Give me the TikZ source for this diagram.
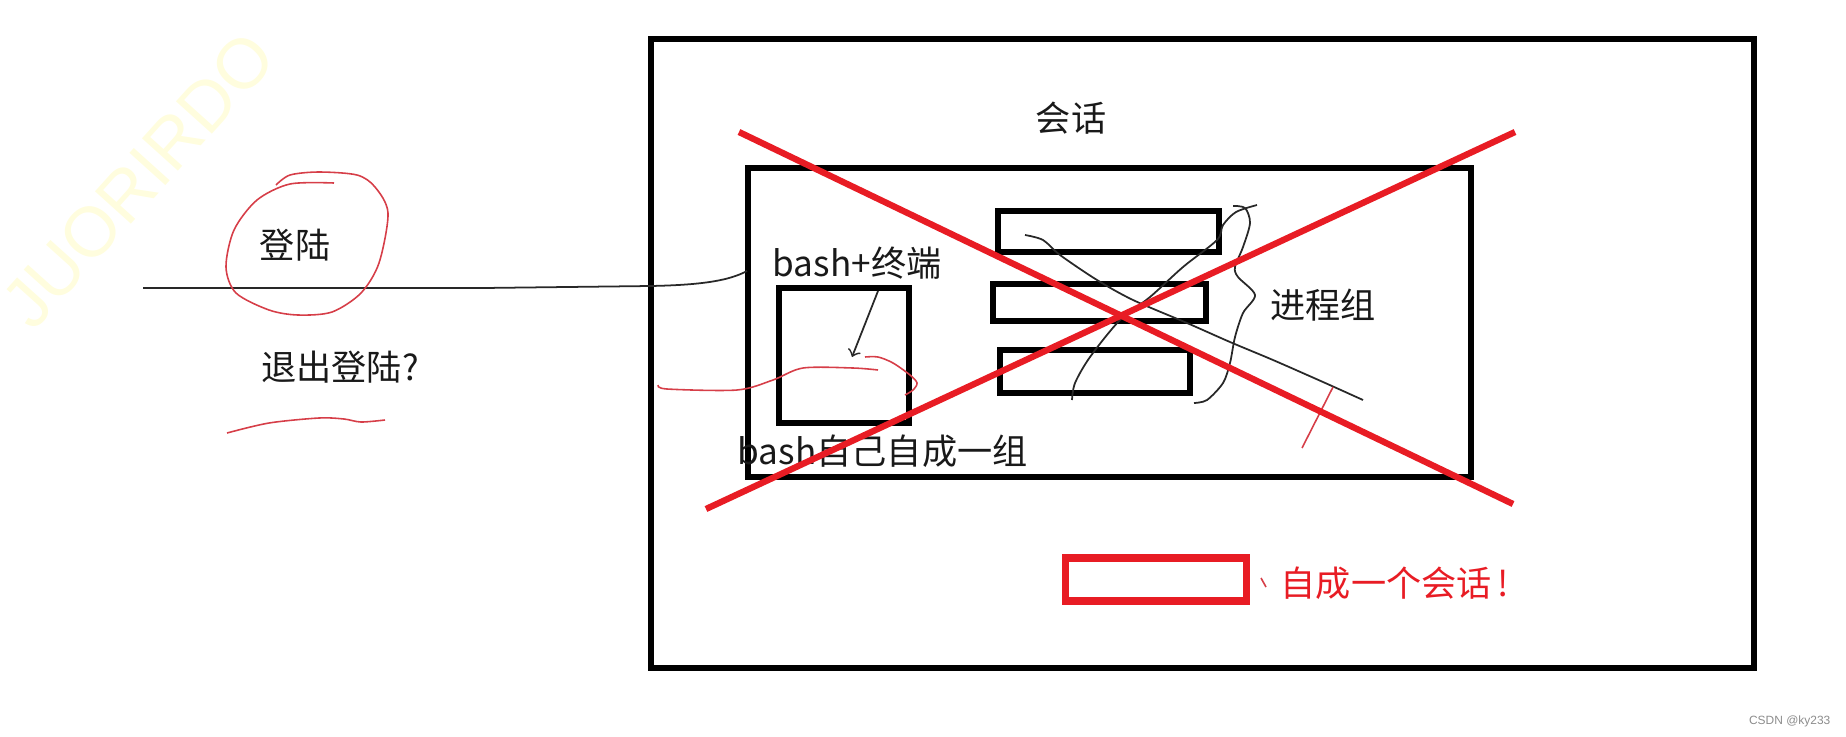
\documentclass[tikz,border=0pt]{standalone}
\usepackage{fontspec}
\newfontfamily\cjk{Noto Sans CJK SC}
\setsansfont{Liberation Sans}
\definecolor{penred}{RGB}{232,28,36}
\definecolor{thinred}{RGB}{214,62,72}
\definecolor{ink}{RGB}{40,40,40}
\definecolor{wmyellow}{RGB}{255,253,222}

\begin{document}
\begin{tikzpicture}[x=0.01cm, y=-0.01cm,
    txt/.style={font=\cjk\fontsize{10}{12}\selectfont, inner sep=0pt, text={rgb,255:red,25;green,25;blue,25}},
    heavy/.style={line width=1.9pt},
    cross/.style={line width=1.8pt, draw=penred},
    pencil/.style={line width=0.5pt, draw=ink},
    redpencil/.style={line width=0.45pt, draw=thinred}]

                        \useasboundingbox (0,0) rectangle (1846,736);

                        \node[rotate=48, font=\sffamily\fontsize{20}{22}\selectfont, text=wmyellow] (mark) at (138,180) {JUORIRDO};

                        \draw[heavy] (651,39) rectangle (1754,668);
                        \draw[heavy] (748,168) rectangle (1471,477);
                        \draw[heavy] (998,211) rectangle (1219,252);
                        \draw[heavy] (993,284) rectangle (1206,321);
                        \draw[heavy] (1000,350) rectangle (1190,393);
                        \draw[heavy] (779,288) rectangle (909,423);

                        \node[txt] (session) at (1071,118) {会话};
                        \node[txt] (bashterm) at (857,263) {bash+终端};
                        \node[txt, anchor=west] (bashgrp) at (737,451) {bash自己自成一组};
                        \node[txt] (pgrp) at (1323,305) {进程组};
                        \node[txt] (login) at (295,245) {登陆};
                        \node[txt] (logout) at (340,367) {退出登陆?};
                        \node[txt, anchor=west, text=penred] (newsess) at (1280,583) {自成一个会话\,!};
                        \node[font=\sffamily\fontsize{3.4}{4}\selectfont, text={rgb,255:red,140;green,140;blue,140}, anchor=east, inner sep=0pt] (csdn) at (1831,721) {CSDN @ky233};

                        \coordinate (linestart) at (143,288);
                        \coordinate (lineend) at (747,271);
                        \draw[pencil] (linestart) -- (483,288) -- (650,286) .. controls (705,285) and (730,280) .. (lineend);

                        \coordinate (tail) at (878,291);
                        \coordinate (tip) at (852,357);
                        \draw[pencil, ->] (tail) -- (tip);

                        \draw[pencil] plot[smooth] coordinates {(1025,235) (1043,240) (1060,255) (1097,280) (1133,300) (1187,323) (1230,342) (1273,360) (1323,382) (1363,400)};
                        \draw[pencil] plot[smooth] coordinates {(1257,205) (1236,212) (1223,225) (1217,240) (1183,267) (1150,297) (1120,320) (1090,357) (1075,383) (1072,400)};
                        \draw[pencil] plot[smooth] coordinates {(1233,206) (1245,208) (1250,223) (1243,247) (1235,267) (1238,277) (1255,295) (1243,313) (1235,337) (1230,363) (1223,383) (1207,400) (1194,403)};

                        \draw[redpencil] plot[smooth] coordinates {(334,183) (290,184) (257,200) (234,230) (226,267) (236,293) (269,310) (298,315) (332,312) (361,293) (379,263) (388,213) (375,187) (357,175) (319,172) (290,175) (276,185)};
                        \draw[redpencil] plot[smooth] coordinates {(227,433) (269,423) (319,418) (344,419) (361,422) (385,420)};
                        \draw[redpencil] plot[smooth] coordinates {(658,385) (667,389) (737,390) (773,380) (803,368) (853,368) (878,370)};
                        \draw[redpencil] plot[smooth] coordinates {(865,357) (878,357) (893,363) (910,375) (917,383) (913,390) (905,395)};
                        \draw[redpencil] (1333,387) -- (1302,448);

                        \draw[cross] (739,132) -- (1513,504);
                        \draw[cross] (706,509) -- (1515,132);

                        \draw[line width=2pt, draw=penred] (1065,558) rectangle (1246,601);
                        \draw[redpencil] (1261,578) -- (1266,587);
                           
                      \end{tikzpicture}
\end{document}
